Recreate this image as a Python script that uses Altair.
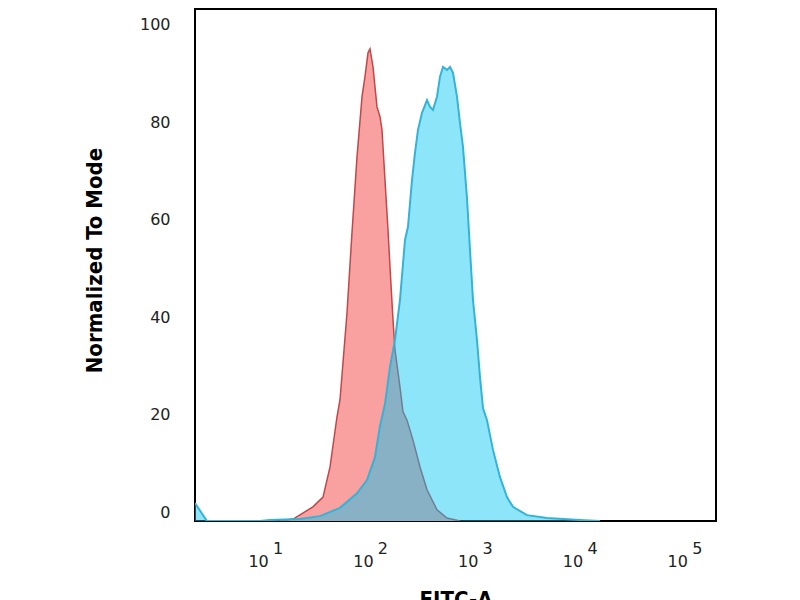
import altair as alt
import pandas as pd

# Isotype control (red) histogram: FITC-A intensity vs % of mode
red_fitc = [13.7, 18.3, 28.3, 35.3, 41.2, 48.0, 51.3, 59.8, 66.7, 74.5,
            83.2, 88.8, 94.9, 99.1, 105.9, 115.6, 123.5, 129.0, 137.8, 147.2,
            153.8, 164.3, 171.7, 191.6, 204.7, 223.5, 255.0, 297.4, 346.9, 432.1,
            538.1, 716.1]
red_mode = [0, 0.4, 2.9, 4.9, 11.1, 21.4, 24.9, 42.7, 59.1, 74.7,
            87.1, 91.2, 96.1, 96.9, 93.2, 85.0, 83.0, 80.3, 70.0, 59.8,
            52.2, 41.3, 35.1, 27.5, 22.4, 20.7, 16.6, 11.1, 6.4, 2.3,
            0.6, 0]

# Antibody-stained (blue) histogram
blue_fitc = [2.12, 2.37, 2.76, 8.84, 11.0, 21.3, 33.0, 51.3, 74.5, 92.8,
             110.6, 123.5, 137.8, 153.8, 171.7, 191.6, 213.9, 228.5, 249.5, 266.5,
             284.6, 310.8, 346.9, 370.5, 395.7, 432.1, 461.5, 492.9, 538.1, 574.9,
             614.1, 670.3, 716.1, 764.7, 835.3, 892.3, 952.8, 1040, 1111, 1187,
             1296, 1479, 1725, 2011, 2295, 3121, 4843, 10000, 15515]
blue_mode = [3.7, 2.1, 0, 0, 0.2, 0.4, 1.0, 2.7, 5.7, 8.4,
             13.1, 19.5, 24.0, 31.6, 37.2, 45.4, 57.7, 60.4, 70.0, 75.6,
             80.3, 83.8, 86.4, 85.0, 84.4, 87.1, 91.2, 93.2, 92.6, 93.2,
             92.0, 87.1, 81.7, 76.8, 66.3, 55.6, 45.4, 37.2, 29.6, 23.2,
             20.7, 14.6, 9.0, 4.9, 2.9, 1.2, 0.6, 0.2, 0]

decades = [10, 100, 1000, 10000, 100000]
exponents = ["1", "2", "3", "4", "5"]
y_ticks = [0, 20, 40, 60, 80, 100]

red_df = pd.DataFrame({"fitc": red_fitc, "mode": red_mode})
blue_df = pd.DataFrame({"fitc": blue_fitc, "mode": blue_mode})
dec_df = pd.DataFrame({"fitc": decades, "exp": exponents})

TITLE_FONT = "Liberation Sans Narrow, Arial Narrow, DejaVu Sans Condensed, DejaVu Sans, sans-serif"
LABEL_FONT = "DejaVu Sans"
LABEL_COLOR = "#222222"

xscale = alt.Scale(type="log", domain=[2.12, 198600], nice=False)
yscale = alt.Scale(domain=[0, 105.1], nice=False, zero=False)

xaxis = alt.Axis(labels=False, ticks=False, tickSize=0, domain=False, grid=False,
                 title="FITC-A", titleFont=TITLE_FONT, titleFontSize=22,
                 titleFontWeight="bold", titleColor="black",
                 titleY=85, titleBaseline="alphabetic")
yaxis = alt.Axis(values=y_ticks, ticks=False, tickSize=0, domain=False, grid=False,
                 labelFont=LABEL_FONT, labelFontSize=16, labelColor=LABEL_COLOR,
                 labelPadding=25, labelOffset=-9, labelBaseline="middle",
                 title="Normalized To Mode", titleFont=TITLE_FONT, titleFontSize=22,
                 titleFontWeight="bold", titleColor="black",
                 titleX=-101, titleY=251, titleAngle=270, titleBaseline="middle",
                 titleAlign="center")

X = alt.X("fitc:Q", scale=xscale, axis=xaxis)
Y = alt.Y("mode:Q", scale=yscale, axis=yaxis)

red_area = alt.Chart(red_df).mark_area(color="#f9a1a1", clip=True).encode(x=X, y=Y)
red_line = alt.Chart(red_df).mark_line(color="#c04848", strokeWidth=1.5, clip=True).encode(x=X, y=Y)
blue_area = alt.Chart(blue_df).mark_area(color="#00c6f2", opacity=0.45, clip=True).encode(x=X, y=Y)
blue_line = alt.Chart(blue_df).mark_line(color="#35b3d6", strokeWidth=2, clip=True).encode(x=X, y=Y)

base_txt = alt.Chart(dec_df).mark_text(text="10", font=LABEL_FONT, fontSize=16,
                                       color=LABEL_COLOR, align="center",
                                       baseline="middle", dx=-7).encode(
    x=X, y=alt.value(553))
exp_txt = alt.Chart(dec_df).mark_text(font=LABEL_FONT, fontSize=16,
                                      color=LABEL_COLOR, align="center",
                                      baseline="middle", dx=12.5).encode(
    x=X, y=alt.value(540), text="exp:N")

chart = alt.layer(red_area, red_line, blue_area, blue_line, base_txt, exp_txt).properties(
    width=521, height=512,
    autosize=alt.AutoSizeParams(type="none"),
    padding={"left": 187, "top": 1, "right": 76, "bottom": 79},
    background="white",
).configure_view(stroke="black", strokeWidth=2)

chart.save("out.html", embed_options={"renderer": "svg", "actions": False})
